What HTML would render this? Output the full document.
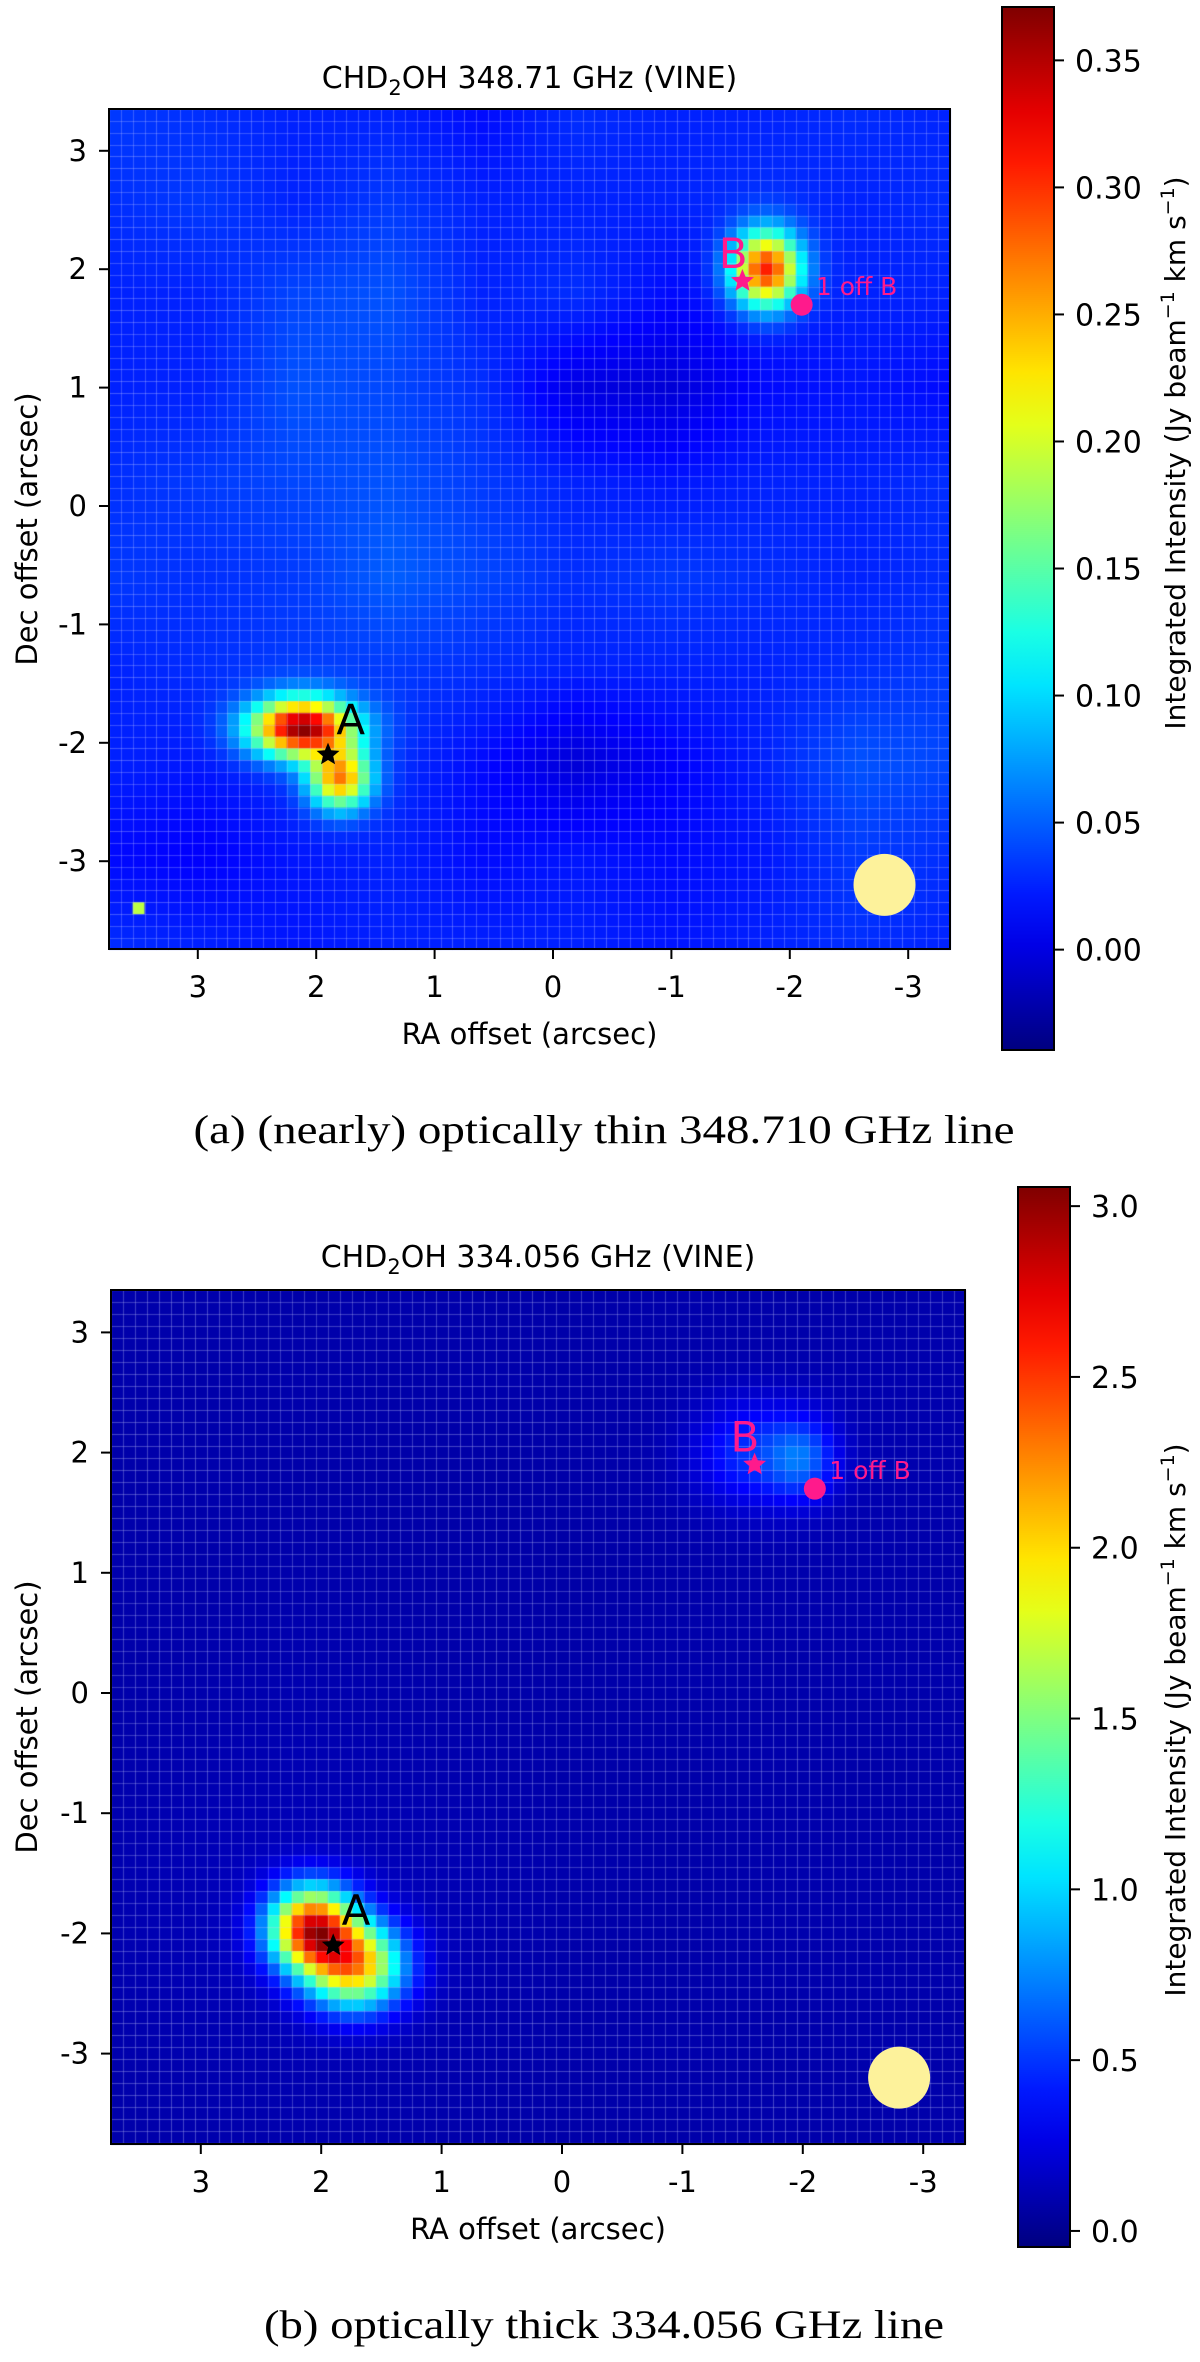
<!DOCTYPE html>
<html><head><meta charset="utf-8">
<style>
html,body{margin:0;padding:0;background:#fff;width:1200px;height:2362px;overflow:hidden;}
canvas{position:absolute;left:0;top:0;}
svg{position:absolute;left:0;top:0;}
</style></head>
<body>
<canvas id="cv" width="1200" height="2362"></canvas>
<svg id="ov" width="1200" height="2362" xmlns="http://www.w3.org/2000/svg"></svg>
<script>
// ---- data arrays ----
const xTicks = [3, 2, 1, 0, -1, -2, -3];
const yTicks = [3, 2, 1, 0, -1, -2, -3];
const topCbTicks = [0.00, 0.05, 0.10, 0.15, 0.20, 0.25, 0.30, 0.35];
const botCbTicks = [0.0, 0.5, 1.0, 1.5, 2.0, 2.5, 3.0];
// background coarse grids (rows top->bottom, cols left(RA 3.75)->right(RA -3.35))
const topBg = [
 [.035,.03,.025,.025,.015,.03,.025,.025,.03,.025],
 [.03,.035,.025,.035,.025,.025,.025,.03,.025,.03],
 [.025,.025,.04,.045,.025,.03,.015,.02,.025,.025],
 [.025,.025,.045,.04,.03,.0,-.005,.015,.02,.015],
 [.03,.035,.04,.045,.035,.025,.02,.025,.025,.03],
 [.035,.03,.035,.05,.04,.03,.035,.03,.025,.03],
 [.025,.03,.035,.035,.03,.025,.025,.025,.03,.035],
 [.025,.02,.03,.03,.015,-.005,.01,.025,.045,.04],
 [.015,.01,.02,.025,.015,.02,.015,.02,.035,.03],
 [.03,.025,.02,.025,.025,.025,.02,.025,.03,.025]
];
const botBg = [
 [.08,.09,.08,.09,.08,.08,.09,.08,.08,.09],
 [.09,.08,.09,.08,.09,.08,.08,.09,.10,.09],
 [.08,.09,.08,.08,.07,.08,.09,.10,.10,.09],
 [.09,.08,.09,.08,.08,.07,.08,.09,.09,.08],
 [.08,.09,.10,.09,.08,.08,.09,.08,.09,.09],
 [.09,.10,.11,.10,.09,.08,.08,.09,.08,.09],
 [.10,.12,.13,.12,.10,.09,.08,.09,.09,.08],
 [.10,.12,.13,.12,.10,.08,.08,.09,.09,.09],
 [.09,.10,.11,.10,.09,.08,.09,.08,.09,.08],
 [.08,.09,.09,.09,.08,.08,.08,.09,.08,.09]
];
// gaussian components: [ra, dec, amplitude, sigmaRA, sigmaDec]
const topSrcRA  = [2.12, 1.80, -1.80];
const topSrcDec = [-1.87, -2.30, 2.00];
const topSrcAmp = [0.335, 0.235, 0.285];
const topSrcSx  = [0.30, 0.18, 0.20];
const topSrcSy  = [0.17, 0.18, 0.22];
const topHotRA = [3.5], topHotDec = [-3.4], topHotVal = [0.19];
const botSrcRA  = [2.08, 1.72, -1.55, -2.00];
const botSrcDec = [-1.95, -2.27, 2.00, 1.95];
const botSrcAmp = [2.45, 1.95, 0.38, 0.48];
const botSrcSx  = [0.25, 0.28, 0.32, 0.2];
const botSrcSy  = [0.24, 0.25, 0.30, 0.24];

const svg = document.getElementById('ov');
const ctx = document.getElementById('cv').getContext('2d');
const NS = 'http://www.w3.org/2000/svg';
function mk(tag, attrs, parent, text){
  const e = document.createElementNS(NS, tag);
  for (const k in attrs) e.setAttribute(k, attrs[k]);
  if (text !== undefined) e.textContent = text;
  (parent||svg).appendChild(e); return e;
}
function jet(t){
  t = Math.max(0, Math.min(1, t));
  const c = v => Math.round(255*Math.max(0, Math.min(1, v)));
  return [c(1.5-Math.abs(4*t-3)), c(1.5-Math.abs(4*t-2)), c(1.5-Math.abs(4*t-1))];
}

function panel(P){
  const sx = ra => P.x0 - ra*P.kx;
  const sy = de => P.y0 - de*P.ky;
  const raL = (P.x0-P.L)/P.kx, raR = (P.x0-P.R)/P.kx;
  const deT = (P.y0-P.T)/P.ky, deB = (P.y0-P.B)/P.ky;
  const norm = v => (v-P.vmin)/(P.vmax-P.vmin);
  const bgAt = (ra, de) => {
    const n = P.bg.length;
    const fx = (raL-ra)/(raL-raR)*(n-1), fy = (deT-de)/(deT-deB)*(n-1);
    const i = Math.max(0,Math.min(n-2,Math.floor(fx))), j = Math.max(0,Math.min(n-2,Math.floor(fy)));
    const u = fx-i, w = fy-j;
    return P.bg[j][i]*(1-u)*(1-w)+P.bg[j][i+1]*u*(1-w)+P.bg[j+1][i]*(1-u)*w+P.bg[j+1][i+1]*u*w;
  };
  const cell = 0.1;
  for (let ra = raL; ra > raR; ra -= cell){
    for (let de = deT; de > deB; de -= cell){
      const cr = ra - cell/2, cd = de - cell/2;
      let v = bgAt(cr, cd);
      for (let k=0;k<P.sRA.length;k++){
        const dx=(cr-P.sRA[k])/P.sSx[k], dy=(cd-P.sDec[k])/P.sSy[k];
        v += P.sAmp[k]*Math.exp(-0.5*(dx*dx+dy*dy));
      }
      for (let k=0;k<P.hRA.length;k++){
        if (Math.abs(cr-P.hRA[k])<cell/2 && Math.abs(cd-P.hDec[k])<cell/2) v = P.hVal[k];
      }
      const c = jet(norm(v));
      ctx.fillStyle = `rgb(${c[0]},${c[1]},${c[2]})`;
      const x1 = sx(ra), y1 = sy(de);
      ctx.fillRect(x1, y1, Math.min(P.R, sx(ra-cell))-x1+0.5, Math.min(P.B, sy(de-cell))-y1+0.5);
    }
  }
  ctx.strokeStyle='rgba(200,210,255,0.28)'; ctx.lineWidth=1;
  ctx.beginPath();
  for (let ra = raL; ra > raR; ra -= cell){ const x=Math.round(sx(ra))+0.5; ctx.moveTo(x,P.T); ctx.lineTo(x,P.B);}
  for (let de = deT; de > deB; de -= cell){ const y=Math.round(sy(de))+0.5; ctx.moveTo(P.L,y); ctx.lineTo(P.R,y);}
  ctx.stroke();
  const g = ctx.createLinearGradient(0,P.cbB,0,P.cbT);
  for (let i=0;i<=20;i++){ const c=jet(i/20); g.addColorStop(i/20,`rgb(${c[0]},${c[1]},${c[2]})`); }
  ctx.fillStyle=g; ctx.fillRect(P.cbL,P.cbT,P.cbR-P.cbL,P.cbB-P.cbT);

  const grp = mk('g', {});
  
  
  const F = 'DejaVu Sans, Liberation Sans, sans-serif';
  const beam = mk('circle',{cx:sx(-2.8),cy:sy(-3.2),r:P.beamR,fill:'#fdf29b'},grp);
   
  const fr = mk('rect',{x:P.L,y:P.T,width:P.R-P.L,height:P.B-P.T,fill:'none',stroke:'#000','stroke-width':2},grp);
   
  xTicks.forEach(t=>{
    const x=sx(t);
    mk('line',{x1:x,y1:P.B,x2:x,y2:P.B+10,stroke:'#000','stroke-width':2},grp);
    const tl = mk('text',{x:x,y:P.B+48,'font-family':F,'font-size':29,'text-anchor':'middle'},grp,String(t));
     
  });
  yTicks.forEach(t=>{
    const y=sy(t);
    mk('line',{x1:P.L-10,y1:y,x2:P.L,y2:y,stroke:'#000','stroke-width':2},grp);
    const tl = mk('text',{x:P.L-22,y:y+10,'font-family':F,'font-size':29,'text-anchor':'end'},grp,String(t));
     
  });
  const xl = mk('text',{x:(P.L+P.R)/2,y:P.B+95,'font-family':F,'font-size':29,'text-anchor':'middle'},grp,'RA offset (arcsec)');
   
  const yl = mk('text',{x:0,y:0,'font-family':F,'font-size':29,'text-anchor':'middle',transform:`translate(37,${(P.T+P.B)/2}) rotate(-90)`},grp,'Dec offset (arcsec)');
   
  const ti = mk('text',{x:(P.L+P.R)/2,y:P.titleY,'font-family':F,'font-size':30,'text-anchor':'middle'},grp);
   
  ti.appendChild(document.createTextNode('CHD'));
  mk('tspan',{'font-size':21,dy:7},ti,'2');
  mk('tspan',{dy:-7},ti,'OH '+P.freq+' GHz (VINE)');
  const starPath = (cx,cy,r)=>{let d='';for(let i=0;i<10;i++){const a=-Math.PI/2+i*Math.PI/5;const rr=i%2?r*0.45:r;d+=(i?'L':'M')+(cx+rr*Math.cos(a)).toFixed(1)+','+(cy+rr*Math.sin(a)).toFixed(1);}return d+'Z';};
  const sa = mk('path',{d:starPath(sx(1.9),sy(-2.1),12),fill:'#000'},grp);
   
  const ta = mk('text',{x:sx(1.83),y:sy(-1.93),'font-family':F,'font-size':42},grp,'A');
   
  const sb = mk('path',{d:starPath(sx(-1.6),sy(1.9),12),fill:'#ff1a8c'},grp);
   
  const tb = mk('text',{x:sx(-1.4),y:sy(2.01),'font-family':F,'font-size':42,fill:'#ff1a8c'},grp,'B');
   
  const cb = mk('circle',{cx:sx(-2.1),cy:sy(1.7),r:11,fill:'#ff1a8c'},grp);
   
  const to = mk('text',{x:sx(-2.22),y:sy(1.78),'font-family':F,'font-size':25,fill:'#ff1a8c'},grp,'1 off B');
   
  const cf = mk('rect',{x:P.cbL,y:P.cbT,width:P.cbR-P.cbL,height:P.cbB-P.cbT,fill:'none',stroke:'#000','stroke-width':2},grp);
   
  const cy = v => P.cbB - norm(v)*(P.cbB-P.cbT);
  P.cbTicks.forEach(t=>{
    const y=cy(t);
    mk('line',{x1:P.cbR,y1:y,x2:P.cbR+10,y2:y,stroke:'#000','stroke-width':2},grp);
    const tl = mk('text',{x:P.cbR+21,y:y+11,'font-family':F,'font-size':30},grp,t.toFixed(P.dec));
     
  });
  const cl = mk('text',{x:0,y:0,'font-family':F,'font-size':28,'text-anchor':'middle',transform:`translate(1185,${P.cbLabelY}) rotate(-90)`},grp);
   
  cl.appendChild(document.createTextNode('Integrated Intensity (Jy beam'));
  mk('tspan',{'font-size':19,dy:-11},cl,'\u22121');
  mk('tspan',{dy:11},cl,' km s');
  mk('tspan',{'font-size':19,dy:-11},cl,'\u22121');
  mk('tspan',{dy:11},cl,')');
  const cap = mk('text',{x:604,y:P.capY,'font-family':'Liberation Serif, serif','font-size':40,'text-anchor':'middle',textLength:P.capW,lengthAdjust:'spacingAndGlyphs'},grp,P.caption);
   
}

panel({name:'panel-a',x0:553,y0:506,kx:118.4,ky:118.4,L:109,R:950,T:109,B:949,
  vmin:-0.0395,vmax:0.371,bg:topBg,sRA:topSrcRA,sDec:topSrcDec,sAmp:topSrcAmp,sSx:topSrcSx,sSy:topSrcSy,
  hRA:topHotRA,hDec:topHotDec,hVal:topHotVal,cbL:1002,cbR:1054,cbT:7,cbB:1050,cbTicks:topCbTicks,dec:2,
  beamR:31,titleY:88,freq:'348.71',cbLabelY:453,capY:1143,capW:821,caption:'(a) (nearly) optically thin 348.710 GHz line'});
panel({name:'panel-b',x0:562,y0:1693,kx:120.4,ky:120.2,L:111,R:965,T:1290,B:2144,
  vmin:-0.047,vmax:3.056,bg:botBg,sRA:botSrcRA,sDec:botSrcDec,sAmp:botSrcAmp,sSx:botSrcSx,sSy:botSrcSy,
  hRA:[],hDec:[],hVal:[],cbL:1018,cbR:1070,cbT:1187,cbB:2247,cbTicks:botCbTicks,dec:1,
  beamR:31,titleY:1267,freq:'334.056',cbLabelY:1720,capY:2338,capW:680,caption:'(b) optically thick 334.056 GHz line'});
</script>
</body></html>
